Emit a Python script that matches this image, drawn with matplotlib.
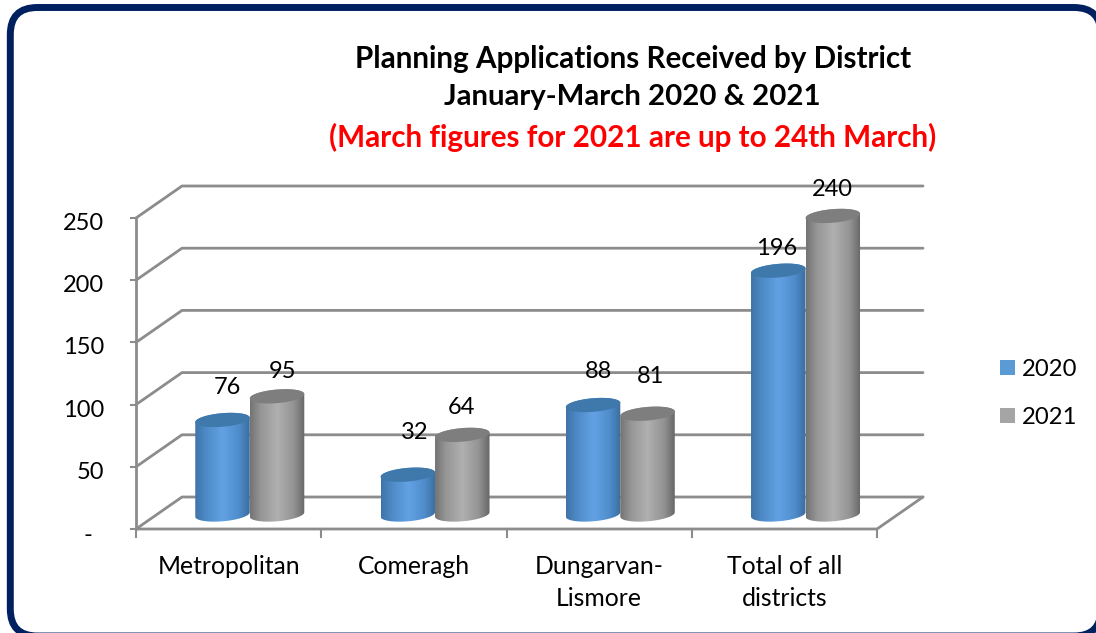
import numpy as np
import matplotlib
matplotlib.use("Agg")
import matplotlib.pyplot as plt
from matplotlib.patches import FancyBboxPatch, PathPatch, Rectangle
from matplotlib.path import Path
from matplotlib.colors import LinearSegmentedColormap

plt.rcParams['font.family'] = ['Lato', 'DejaVu Sans']

categories = ["Metropolitan", "Comeragh", "Dungarvan-\nLismore", "Total of all\ndistricts"]
series_names = ["2020", "2021"]
values_2020 = [76, 32, 88, 196]
values_2021 = [95, 64, 81, 240]
y_ticks = [0, 50, 100, 150, 200, 250]
y_tick_labels = ["-", "50", "100", "150", "200", "250"]

W, H = 1096, 633
fig = plt.figure(figsize=(W / 100, H / 100), dpi=100, facecolor="white")

# Frame
bg = fig.add_axes([0, 0, 1, 1], zorder=0)
bg.set_xlim(0, W); bg.set_ylim(H, 0); bg.axis("off")
bg.add_patch(FancyBboxPatch((10.3 + 27, 7.5 + 27), 1101 - 10.3 - 54, 636 - 7.5 - 54,
                            boxstyle="round,pad=27,rounding_size=27",
                            fc="white", ec="#002060", lw=5.0, clip_on=False))

# Plot area: the front plane of the 3-D box
L, R, T, B = 136, 877, 218, 529
ax = fig.add_axes([L / W, 1 - B / H, (R - L) / W, (B - T) / H], zorder=1)
ax.set_xlim(0, 4); ax.set_ylim(0, 250)
ax.axis("off")
ppx = (R - L) / 4          # pixels per category
ppy = (B - T) / 250        # pixels per unit
DX, DY = 46 / ppx, 32 / ppy  # depth of box in data units

GRID = "#8c8c8c"
grid_kw = dict(color=GRID, lw=2.0, clip_on=False, solid_capstyle="round", zorder=1)

for t in y_ticks:
    ax.plot([0, DX, 4 + DX], [t, t + DY, t + DY], **grid_kw)
    ax.plot([-5 / ppx, 0], [t, t], color=GRID, lw=1.5, clip_on=False, zorder=1)
ax.plot([0, 0], [0, 250], **grid_kw)
ax.plot([0, 4, 4 + DX], [0, 0, DY], **grid_kw)
for i in range(5):
    ax.plot([i, i], [0, -8 / ppy], color=GRID, lw=1.5, clip_on=False, zorder=1)

# Cylinders
BAR_W = 54.5 / ppx
RX, RY = BAR_W / 2, 6.8 / ppy
TILT = 2.2 / ppy   # rise of the ellipse at its right-hand end
MID_X, BASE = DX / 2 - 0.01, 14.5 / ppy

blue_cm = LinearSegmentedColormap.from_list("b", [(0, "#3f74a6"), (.18, "#4c88c4"), (.5, "#62a2e4"),
                                                  (.8, "#4f8ccb"), (1, "#3b6d9e")])
gray_cm = LinearSegmentedColormap.from_list("g", [(0, "#737373"), (.2, "#969696"), (.5, "#b0b0b0"),
                                                  (.8, "#939393"), (1, "#666666")])
tops = {"2020": "#3f78aa", "2021": "#7e7e7e"}
maps = {"2020": blue_cm, "2021": gray_cm}
grad = np.linspace(0, 1, 256)[None, :]


def ell(cx, cy, a0, a1, n=60):
    th = np.radians(np.linspace(a0, a1, n))
    return cx + RX * np.cos(th), cy + RY * np.sin(th) + TILT * np.cos(th)


def cylinder(cx, v, name, z):
    top_y = v + BASE
    xb, yb = ell(cx, BASE, 180, 360)
    xt, yt = ell(cx, top_y, 0, 180)
    verts = np.r_[np.c_[xb, yb], np.c_[xt, yt], [[xb[0], yb[0]]]]
    body = PathPatch(Path(verts), fc="none", ec="none", transform=ax.transData, clip_on=False)
    ax.add_patch(body)
    im = ax.imshow(grad, cmap=maps[name], aspect="auto", zorder=z,
                   extent=[cx - RX, cx + RX, BASE - RY - TILT, top_y + RY + TILT])
    im.set_clip_path(body)
    im.set_clip_box(fig.bbox)
    xe, ye = ell(cx, top_y, 0, 360)
    ax.fill(xe, ye, color=tops[name], zorder=z + .1, lw=0, clip_on=False)


for i in range(4):
    cx = i + .5 + MID_X
    cylinder(cx - BAR_W / 2, values_2020[i], "2020", 3)
    cylinder(cx + BAR_W / 2, values_2021[i], "2021", 4)
ax.set_xlim(0, 4); ax.set_ylim(0, 250)

# Data labels, nudged by hand as in the source chart
offs_2020 = [(5, 32.5), (7, 42.5), (5, 33.5), (-2, 22.5)]
offs_2021 = [(5, 24.5), (-1, 27.5), (3, 37.5), (0, 26.5)]
for i in range(4):
    cx = i + .5 + MID_X
    for v, sign, (ox, oy) in ((values_2020[i], -1, offs_2020[i]), (values_2021[i], 1, offs_2021[i])):
        ax.annotate(str(v), (cx + sign * BAR_W / 2, v + BASE), xytext=(ox * .72, oy * .72),
                    textcoords="offset points", ha="center", va="center",
                    fontsize=17, color="black", zorder=6, annotation_clip=False)

# Tick labels
for t, s in zip(y_ticks, y_tick_labels):
    off = (-44, -7) if t == 0 else (-32, -5.5)
    ax.annotate(s, (0, t), xytext=(off[0] * .72, off[1] * .72), textcoords="offset points",
                ha="right", va="center", fontsize=17, annotation_clip=False)
for i, c in enumerate(categories):
    ax.annotate(c, (i + .5, 0), xytext=(0, -26 * .72), textcoords="offset points",
                ha="center", va="top", fontsize=17.8, linespacing=1.47, annotation_clip=False)

# Legend
for yp, name, col in ((368, "2020", "#5b9bd5"), (416, "2021", "#a5a5a5")):
    bg.add_patch(Rectangle((1000, yp - 8), 15, 15, fc=col, ec="none"))
    bg.text(1022, yp + 1.5, name, fontsize=17.2, va="center", ha="left")

# Title
bg.text(633.5, 59, "Planning Applications Received by District", fontsize=21.35, fontweight="bold",
        ha="center", va="center")
bg.text(632, 97, "January-March 2020 & 2021", fontsize=21.2, fontweight="bold",
        ha="center", va="center")
bg.text(633, 137, "(March figures for 2021 are up to 24th March)", fontsize=21.3, fontweight="bold",
        color="#ff0000", ha="center", va="center")

fig.savefig("out.png", dpi=100)
